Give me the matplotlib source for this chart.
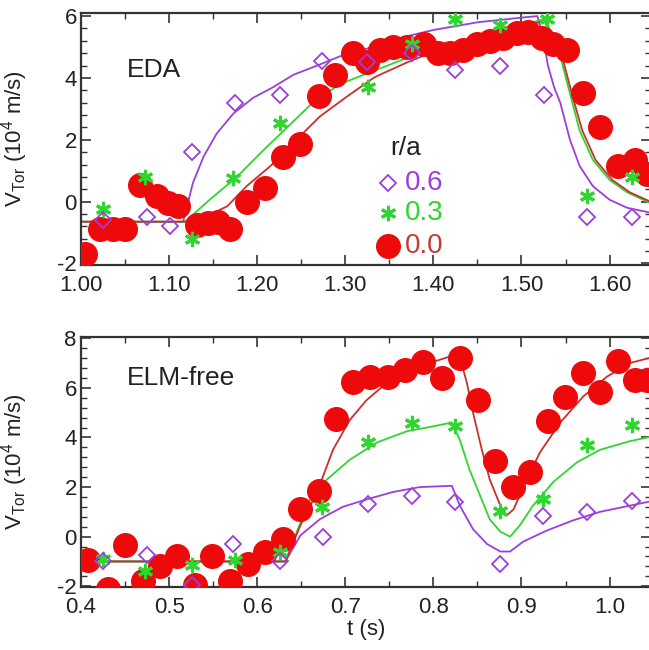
import matplotlib
matplotlib.use("Agg")
import matplotlib.pyplot as plt
from matplotlib.ticker import MultipleLocator, FormatStrFormatter

plt.rcParams['font.family'] = ['Liberation Sans', 'DejaVu Sans']
plt.rcParams['mathtext.fontset'] = 'custom'
plt.rcParams['mathtext.rm'] = 'Liberation Sans'
plt.rcParams['mathtext.it'] = 'Liberation Sans'
plt.rcParams['axes.unicode_minus'] = False

# ---------------- EDA (top) ----------------
eda_t00 = [1.005, 1.022, 1.036, 1.050, 1.067, 1.086, 1.099, 1.110, 1.132, 1.144,
           1.156, 1.169, 1.188, 1.209, 1.229, 1.249, 1.270, 1.288, 1.309, 1.325,
           1.339, 1.354, 1.370, 1.389, 1.405, 1.419, 1.434, 1.449, 1.464, 1.479,
           1.495, 1.507, 1.523, 1.536, 1.552, 1.570, 1.589, 1.610, 1.629, 1.643]
eda_v00 = [-1.7, -0.9, -0.9, -0.9, 0.55, 0.17, -0.05, -0.15, -0.75, -0.7,
           -0.65, -0.9, 0.0, 0.45, 1.45, 1.85, 3.4, 4.1, 4.8, 4.5,
           4.9, 5.0, 5.0, 5.1, 4.8, 4.8, 4.9, 5.1, 5.2, 5.3,
           5.45, 5.5, 5.3, 5.1, 4.9, 3.5, 2.4, 1.15, 1.35, 0.9]

eda_t03 = [1.025, 1.073, 1.126, 1.173, 1.226, 1.326, 1.376, 1.425, 1.476, 1.529, 1.574, 1.625]
eda_v03 = [-0.25, 0.8, -1.2, 0.77, 2.55, 3.7, 5.1, 5.9, 5.7, 5.9, 0.17, 0.8]

eda_t06 = [1.025, 1.075, 1.101, 1.126, 1.175, 1.226, 1.273, 1.325, 1.376, 1.425, 1.476, 1.525, 1.574, 1.625]
eda_v06 = [-0.6, -0.5, -0.8, 1.6, 3.2, 3.45, 4.55, 4.5, 4.8, 4.25, 4.4, 3.45, -0.5, -0.5]

# fitted curves
eda_fit06_t = [1.00, 1.116, 1.127, 1.139, 1.154, 1.173, 1.195, 1.218, 1.241, 1.268,
               1.294, 1.325, 1.339, 1.37, 1.40, 1.45, 1.50, 1.518,
               1.524, 1.530, 1.537, 1.544, 1.555, 1.566, 1.581, 1.60, 1.62, 1.65]
eda_fit06_v = [-0.65, -0.65, 0.6, 1.45, 2.2, 2.85, 3.35, 3.7, 4.1, 4.4,
               4.7, 4.95, 5.1, 5.35, 5.55, 5.8, 5.95, 6.0,
               5.4, 4.4, 3.7, 3.2, 2.0, 1.15, 0.5, 0.06, -0.2, -0.38]
eda_fit03_t = [1.00, 1.118, 1.124, 1.146, 1.177, 1.203, 1.234, 1.263, 1.294, 1.325,
               1.339, 1.37, 1.40, 1.45, 1.50, 1.525,
               1.533, 1.544, 1.555, 1.566, 1.581, 1.60, 1.62, 1.65]
eda_fit03_v = [-0.65, -0.65, -0.5, 0.06, 0.8, 1.55, 2.4, 3.2, 3.8, 4.15,
               4.3, 4.65, 4.95, 5.3, 5.7, 5.9,
               5.4, 4.7, 3.5, 2.3, 1.35, 0.7, 0.3, -0.1]
eda_fit00_t = [1.00, 1.125, 1.135, 1.166, 1.188, 1.215, 1.241, 1.271, 1.302, 1.332,
               1.339, 1.37, 1.40, 1.45, 1.50, 1.527,
               1.536, 1.547, 1.558, 1.569, 1.584, 1.603, 1.623, 1.65]
eda_fit00_v = [-0.65, -0.65, -0.58, -0.15, 0.5, 1.15, 1.9, 2.75, 3.4, 4.0,
               4.1, 4.5, 4.85, 5.25, 5.65, 5.85,
               5.3, 4.6, 3.4, 2.3, 1.35, 0.7, 0.3, -0.05]

# ---------------- ELM-free (bottom) ----------------
elm_t00 = [0.408, 0.431, 0.450, 0.470, 0.490, 0.509, 0.529, 0.549, 0.569, 0.590,
           0.609, 0.629, 0.649, 0.670, 0.690, 0.709, 0.728, 0.749, 0.768, 0.788,
           0.810, 0.830, 0.851, 0.870, 0.890, 0.910, 0.930, 0.949, 0.970, 0.989,
           1.010, 1.029, 1.042]
elm_v00 = [-0.95, -2.1, -0.35, -1.8, -1.2, -0.8, -1.95, -0.8, -1.8, -1.1,
           -0.6, -0.1, 1.1, 1.85, 4.75, 6.25, 6.45, 6.45, 6.7, 7.05,
           6.4, 7.2, 5.5, 3.05, 2.0, 2.6, 4.65, 5.65, 6.6, 5.85,
           7.1, 6.3, 6.3]

elm_t03 = [0.425, 0.473, 0.526, 0.575, 0.626, 0.673, 0.726, 0.776, 0.825, 0.876, 0.924, 0.974, 1.025]
elm_v03 = [-0.9, -1.4, -1.15, -0.95, -0.6, 1.2, 3.8, 4.6, 4.45, 1.05, 1.5, 3.7, 4.5]

elm_t06 = [0.425, 0.475, 0.526, 0.573, 0.626, 0.675, 0.726, 0.776, 0.825, 0.876, 0.924, 0.974, 1.025]
elm_v06 = [-1.0, -0.75, -1.95, -0.3, -1.0, 0.0, 1.3, 1.65, 1.4, -1.1, 0.85, 1.0, 1.45]

elm_fit06_t = [0.40, 0.632, 0.649, 0.671, 0.697, 0.724, 0.754, 0.785, 0.821, 0.830,
               0.845, 0.861, 0.876, 0.887, 0.902, 0.929, 0.958, 0.989, 1.023, 1.05]
elm_fit06_v = [-1.0, -1.0, 0.05, 0.7, 1.2, 1.5, 1.8, 2.0, 2.05, 1.25,
               0.3, -0.3, -0.6, -0.6, -0.2, 0.25, 0.65, 1.0, 1.25, 1.45]
elm_fit03_t = [0.40, 0.632, 0.645, 0.660, 0.679, 0.705, 0.736, 0.770, 0.800, 0.821,
               0.830, 0.841, 0.853, 0.864, 0.876, 0.887, 0.898, 0.913, 0.936, 0.963,
               0.989, 1.023, 1.05]
elm_fit03_v = [-1.0, -1.0, 0.2, 1.5, 2.3, 3.1, 3.8, 4.25, 4.45, 4.6,
               3.9, 2.7, 1.65, 0.7, 0.2, 0.0, 0.45, 1.25, 2.2, 3.0,
               3.5, 3.85, 4.05]
elm_fit00_t = [0.40, 0.632, 0.649, 0.668, 0.686, 0.705, 0.724, 0.747, 0.773, 0.800,
               0.822, 0.830, 0.838, 0.845, 0.855, 0.864, 0.876, 0.883, 0.891, 0.906,
               0.921, 0.944, 0.970, 0.997, 1.023, 1.05]
elm_fit00_v = [-1.0, -1.0, 0.45, 1.8, 3.5, 4.7, 5.5, 6.2, 6.65, 7.05,
               7.3, 7.25, 6.2, 5.0, 3.5, 2.3, 1.25, 0.85, 1.1, 2.3,
               3.4, 4.6, 5.65, 6.45, 7.0, 7.25]

legend_labels = ["0.6", "0.3", "0.0"]

# ---------------- style ----------------
C_PURPLE = "#9a3fdc"
C_GREEN = "#2fd62f"
C_RED = "#ee0a0a"
C_RED_LINE = "#c8302c"
C_RED_TEXT = "#c43a3a"
C_AX = "#333333"
STAR = (6, 2, 0)
W, H = 649, 650

fig = plt.figure(figsize=(6.49, 6.50), dpi=100)
ax1 = fig.add_axes([81 / W, 1 - 265 / H, 570 / W, 252 / H])
ax2 = fig.add_axes([81 / W, 1 - 587 / H, 570 / W, 250 / H])


def draw_panel(ax, t06, v06, t03, v03, t00, v00, fits):
    (f6t, f6v), (f3t, f3v), (f0t, f0v) = fits
    ax.plot(f6t, f6v, color=C_PURPLE, lw=1.3, zorder=2)
    ax.plot(f3t, f3v, color=C_GREEN, lw=1.3, zorder=2)
    ax.plot(f0t, f0v, color=C_RED_LINE, lw=1.3, zorder=2)
    ax.plot(t00, v00, 'o', ms=17, color=C_RED, mec=C_RED, zorder=3)
    ax.plot(t03, v03, ls='none', marker=STAR, ms=11, mew=2.2, color=C_GREEN, zorder=4)
    ax.plot(t06, v06, 'D', ms=8.5, mfc='none', mec=C_PURPLE, mew=1.3, zorder=5)


def style_axes(ax):
    for s in ax.spines.values():
        s.set_linewidth(1.6)
        s.set_color(C_AX)
    ax.tick_params(which='both', direction='in', top=True, right=True, colors=C_AX,
                   labelcolor='#222222', labelsize=16)
    ax.tick_params(which='major', length=7, width=1.2)
    ax.tick_params(which='minor', length=4, width=1.0)
    ax.tick_params(axis='x', pad=7)
    ax.tick_params(axis='y', pad=3)
    ax.set_ylabel(r'V$_{\mathrm{Tor}}$ (10$^{4}$ m/s)', fontsize=16, color='#222222')
    ax.yaxis.set_label_coords(-0.09, 0.5)


draw_panel(ax1, eda_t06, eda_v06, eda_t03, eda_v03, eda_t00, eda_v00,
           [(eda_fit06_t, eda_fit06_v), (eda_fit03_t, eda_fit03_v), (eda_fit00_t, eda_fit00_v)])
ax1.set_xlim(1.0, 1.647)
ax1.set_ylim(-2.05, 6.1)
ax1.xaxis.set_major_locator(MultipleLocator(0.1))
ax1.xaxis.set_minor_locator(MultipleLocator(0.05))
ax1.xaxis.set_major_formatter(FormatStrFormatter('%.2f'))
ax1.yaxis.set_major_locator(MultipleLocator(2))
ax1.yaxis.set_minor_locator(MultipleLocator(0.4))
ax1.yaxis.set_major_formatter(FormatStrFormatter('%d'))
style_axes(ax1)
ax1.text(0.081, 0.774, "EDA", transform=ax1.transAxes, fontsize=19, va='center', color='#222222')

# legend drawn by hand (figure pixel positions)
fig.text(390 / W, 1 - 148 / H, "r/a", fontsize=19, va='center', color='#222222')
leg_y = [183, 213, 246]
leg_colors = [C_PURPLE, C_GREEN, C_RED_TEXT]
leg_ax = fig.add_axes([0, 0, 1, 1], facecolor='none')
leg_ax.set_xlim(0, W)
leg_ax.set_ylim(H, 0)
leg_ax.axis('off')
leg_ax.plot([388], [leg_y[0]], 'D', ms=8.5, mfc='none', mec=C_PURPLE, mew=1.3)
leg_ax.plot([388], [leg_y[1]], ls='none', marker=STAR, ms=11, mew=2.2, color=C_GREEN)
leg_ax.plot([388], [leg_y[2]], 'o', ms=17, color=C_RED)
for lab, yy, cc in zip(legend_labels, leg_y, leg_colors):
    leg_ax.text(405, yy, lab, fontsize=20, va='center', color=cc)

draw_panel(ax2, elm_t06, elm_v06, elm_t03, elm_v03, elm_t00, elm_v00,
           [(elm_fit06_t, elm_fit06_v), (elm_fit03_t, elm_fit03_v), (elm_fit00_t, elm_fit00_v)])
ax2.set_xlim(0.4, 1.047)
ax2.set_ylim(-2.03, 8.05)
ax2.xaxis.set_major_locator(MultipleLocator(0.1))
ax2.xaxis.set_minor_locator(MultipleLocator(0.05))
ax2.xaxis.set_major_formatter(FormatStrFormatter('%.1f'))
ax2.yaxis.set_major_locator(MultipleLocator(2))
ax2.yaxis.set_minor_locator(MultipleLocator(0.4))
ax2.yaxis.set_major_formatter(FormatStrFormatter('%d'))
style_axes(ax2)
ax2.set_xlabel("t (s)", fontsize=16, color='#222222', labelpad=1)
ax2.text(0.081, 0.836, "ELM-free", transform=ax2.transAxes, fontsize=19, va='center', color='#222222')

fig.savefig("out.png", dpi=100)
